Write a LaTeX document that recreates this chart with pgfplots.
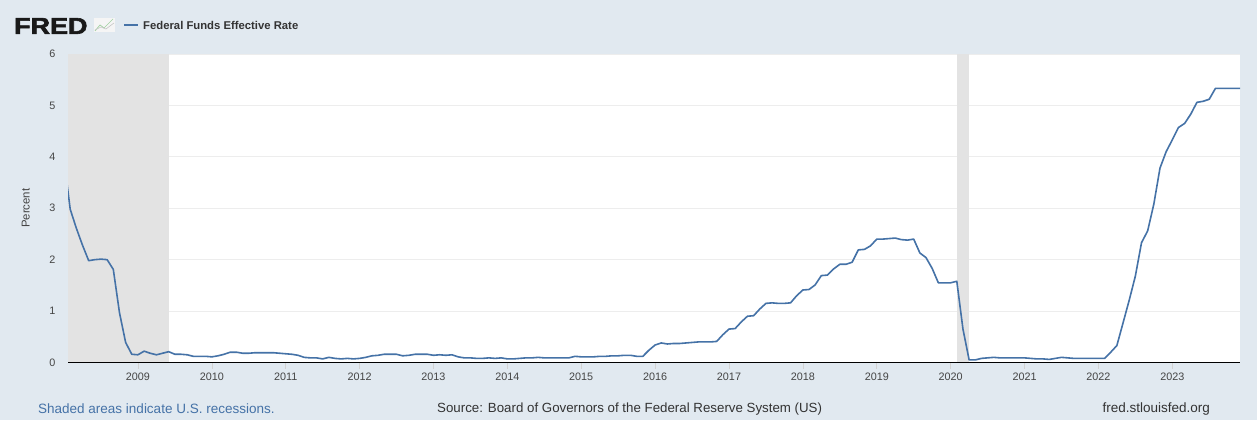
\documentclass[border=0pt]{standalone}
\usepackage{pgfplots}
\pgfplotsset{compat=1.18}
\usepackage{fontspec}
\setmainfont{Liberation Sans}
\newfontfamily\heavy[FakeBold=2.5]{Liberation Sans Bold}
\definecolor{fredbg}{HTML}{E1E9F0}
\definecolor{fredline}{HTML}{4572A7}
\definecolor{recess}{HTML}{E3E3E3}
\definecolor{gridc}{HTML}{EDEDED}
\definecolor{txt}{HTML}{444444}
\definecolor{foot}{HTML}{333333}
\begin{document}
\begin{tikzpicture}[x=1pt,y=1pt]
\fill[fredbg] (0,0) rectangle (1257,420);
\path[use as bounding box] (0,0) rectangle (1257,420);
% header
\node[anchor=west, inner sep=0pt, text=black!90] at (14,394) {\fontsize{23}{23}\heavy\scalebox{1.17}[1]{FRED}};
\fill[gray!8] (94,388) rectangle (115,402);
\draw[green!35!gray!55, line width=0.7pt] (95,389) -- (100,395) -- (104,392) -- (113,401);
\draw[gray!45, line width=0.6pt] (95,390) -- (101,393) -- (106,391) -- (114,397);
\draw[fredline, line width=1.5pt] (124,395) -- (138,395);
\node[anchor=west, inner sep=0pt, text=foot] at (143,395) {\fontsize{11.3}{12}\selectfont\bfseries Federal Funds Effective Rate};
% footer
\node[anchor=west, inner sep=0pt, text=fredline] at (38,11) {\fontsize{13.5}{14}\selectfont Shaded areas indicate U.S. recessions.};
\node[anchor=west, inner sep=0pt, text=foot] at (437,11) {\fontsize{13.3}{14}\selectfont Source: Board of Governors of the Federal Reserve System (US)};
\node[anchor=east, inner sep=0pt, text=foot] at (1210,11) {\fontsize{13.5}{14}\selectfont fred.stlouisfed.org};
\begin{axis}[
  at={(68pt,57.5pt)}, anchor=south west, scale only axis,
  width=1172pt, height=308.5pt,
  xmin=0.64, xmax=191, ymin=0, ymax=6,
  axis background/.style={fill=white},
  axis x line=bottom, axis y line=left,
  x axis line style={black, line width=1.4pt, -},
  y axis line style={draw=none},
  xtick={12,24,...,180},
  xticklabels={2009,2010,2011,2012,2013,2014,2015,2016,2017,2018,2019,2020,2021,2022,2023},
  ytick={0,1,...,6},
  ytick style={draw=none},
  xtick style={draw=gray!35, line width=0.6pt},
  tick align=outside, major tick length=6pt,
  ymajorgrids, grid style={gridc, line width=0.8pt},
  /pgf/number format/assume math mode=true,
  ticklabel style={font=\fontsize{10.8}{11}\selectfont, text=txt},
  xticklabel style={yshift=-1pt},
  yticklabel style={xshift=-3pt},
  ylabel={Percent},
  ylabel style={at={(axis description cs:-0.036,0.5)}, anchor=center, font=\fontsize{11.4}{12}\selectfont, text=txt},
  clip=true,
]
\addplot[draw=none, fill=recess] coordinates {(-1,6) (17,6)} \closedcycle;
\addplot[draw=none, fill=recess] coordinates {(145,6) (147,6)} \closedcycle;
\addplot[fredline, line width=1.6pt, line join=round] coordinates {
(0,3.94)(1,2.98)(2,2.61)(3,2.28)(4,1.98)(5,2.00)(6,2.01)(7,2.00)(8,1.81)(9,0.97)(10,0.39)(11,0.16)
(12,0.15)(13,0.22)(14,0.18)(15,0.15)(16,0.18)(17,0.21)(18,0.16)(19,0.16)(20,0.15)(21,0.12)(22,0.12)(23,0.12)
(24,0.11)(25,0.13)(26,0.16)(27,0.20)(28,0.20)(29,0.18)(30,0.18)(31,0.19)(32,0.19)(33,0.19)(34,0.19)(35,0.18)
(36,0.17)(37,0.16)(38,0.14)(39,0.10)(40,0.09)(41,0.09)(42,0.07)(43,0.10)(44,0.08)(45,0.07)(46,0.08)(47,0.07)
(48,0.08)(49,0.10)(50,0.13)(51,0.14)(52,0.16)(53,0.16)(54,0.16)(55,0.13)(56,0.14)(57,0.16)(58,0.16)(59,0.16)
(60,0.14)(61,0.15)(62,0.14)(63,0.15)(64,0.11)(65,0.09)(66,0.09)(67,0.08)(68,0.08)(69,0.09)(70,0.08)(71,0.09)
(72,0.07)(73,0.07)(74,0.08)(75,0.09)(76,0.09)(77,0.10)(78,0.09)(79,0.09)(80,0.09)(81,0.09)(82,0.09)(83,0.12)
(84,0.11)(85,0.11)(86,0.11)(87,0.12)(88,0.12)(89,0.13)(90,0.13)(91,0.14)(92,0.14)(93,0.12)(94,0.12)(95,0.24)
(96,0.34)(97,0.38)(98,0.36)(99,0.37)(100,0.37)(101,0.38)(102,0.39)(103,0.40)(104,0.40)(105,0.40)(106,0.41)(107,0.54)
(108,0.65)(109,0.66)(110,0.79)(111,0.90)(112,0.91)(113,1.04)(114,1.15)(115,1.16)(116,1.15)(117,1.15)(118,1.16)(119,1.30)
(120,1.41)(121,1.42)(122,1.51)(123,1.69)(124,1.70)(125,1.82)(126,1.91)(127,1.91)(128,1.95)(129,2.19)(130,2.20)(131,2.27)
(132,2.40)(133,2.40)(134,2.41)(135,2.42)(136,2.39)(137,2.38)(138,2.40)(139,2.13)(140,2.04)(141,1.83)(142,1.55)(143,1.55)
(144,1.55)(145,1.58)(146,0.65)(147,0.05)(148,0.05)(149,0.08)(150,0.09)(151,0.10)(152,0.09)(153,0.09)(154,0.09)(155,0.09)
(156,0.09)(157,0.08)(158,0.07)(159,0.07)(160,0.06)(161,0.08)(162,0.10)(163,0.09)(164,0.08)(165,0.08)(166,0.08)(167,0.08)
(168,0.08)(169,0.08)(170,0.20)(171,0.33)(172,0.77)(173,1.21)(174,1.68)(175,2.33)(176,2.56)(177,3.08)(178,3.78)(179,4.10)
(180,4.33)(181,4.57)(182,4.65)(183,4.83)(184,5.06)(185,5.08)(186,5.12)(187,5.33)(188,5.33)(189,5.33)(190,5.33)(191,5.33)
};
\end{axis}
\end{tikzpicture}
\end{document}
